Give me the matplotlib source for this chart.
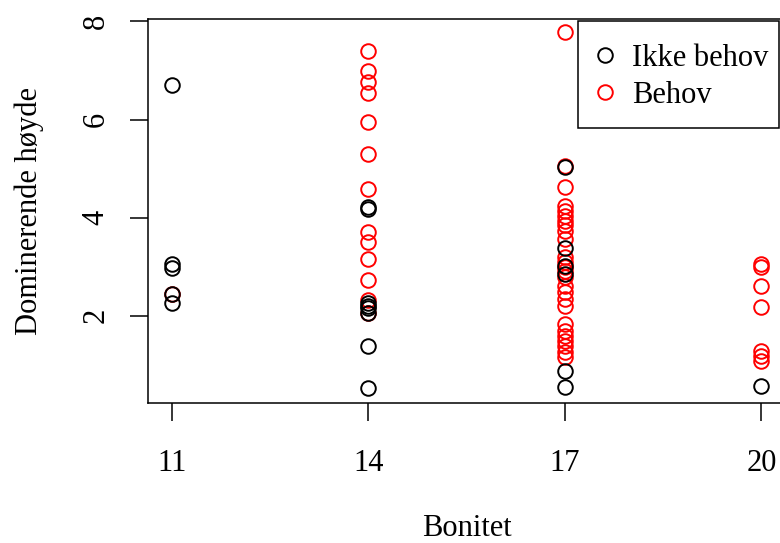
import matplotlib
matplotlib.use("Agg")
import matplotlib.pyplot as plt
from matplotlib.patches import Rectangle

# Ikke behov (black)
bonitet_ikke = [11, 11, 11, 11, 11,
                14, 14, 14, 14, 14, 14, 14, 14,
                17, 17, 17, 17, 17, 17,
                20]
hoyde_ikke = [6.7, 3.05, 2.98, 2.45, 2.25,
              4.22, 4.18, 2.25, 2.2, 2.15, 2.05, 1.38, 0.53,
              5.03, 3.39, 3.02, 2.85, 0.88, 0.54,
              0.57]

# Behov (red)
bonitet_behov = [11] + [14] * 13 + [17] * 26 + [20] * 7
hoyde_behov = [2.45,
               7.39, 6.99, 6.76, 6.54, 5.94, 5.29, 4.58, 3.70, 3.50, 3.16, 2.73, 2.32, 2.05,
               7.78, 5.06, 4.63, 4.24, 4.14, 4.04, 3.94, 3.84, 3.73, 3.57, 3.19, 3.10,
               3.00, 2.92, 2.78, 2.61, 2.48, 2.34, 2.20, 1.83, 1.69, 1.59, 1.49, 1.39,
               1.25, 1.15,
               3.05, 2.99, 2.61, 2.17, 1.29, 1.18, 1.08]

x_ticks = [11, 14, 17, 20]
y_ticks = [2, 4, 6, 8]

plt.rcParams['font.family'] = ['Liberation Serif', 'DejaVu Serif']
plt.rcParams['font.size'] = 22

W, H = 780, 543
fig = plt.figure(figsize=(W / 100, H / 100), dpi=100)
# plot region in pixels: x 148..785 (cut off at right), y 19..403
ax = fig.add_axes([148 / W, 1 - 403 / H, (785 - 148) / W, (403 - 19) / H])

ax.plot(bonitet_behov, hoyde_behov, 'o', mfc='none', mec='red', ms=10.5, mew=1.4,
        label='Behov', zorder=3)
ax.plot(bonitet_ikke, hoyde_ikke, 'o', mfc='none', mec='black', ms=10.5, mew=1.4,
        label='Ikke behov', zorder=4)

ax.set_xlim(10.64, 20.36)
ax.set_ylim(0.22, 8.05)
ax.set_xticks(x_ticks)
ax.set_yticks(y_ticks)
ax.set_yticklabels([str(v) for v in y_ticks], rotation=90, va='center')
ax.tick_params(direction='out', length=13, width=1.1, pad=20, colors='black')
ax.tick_params(axis='y', pad=14)

for s in ax.spines.values():
    s.set_linewidth(1.1)

ax.set_xlabel('Bonitet', labelpad=26)
ax.set_ylabel('Dominerende høyde', labelpad=27)

# legend box drawn separately so its size matches the R one
box = Rectangle((578 / W, 1 - 128 / H), 201 / W, 107 / H, transform=fig.transFigure,
                facecolor='white', edgecolor='black', linewidth=1.1, zorder=5)
fig.add_artist(box)

handles, labels = ax.get_legend_handles_labels()
leg = fig.legend(handles[::-1], labels[::-1], loc='upper left',
                 bbox_to_anchor=(593 / W, 1 - 43.5 / H), bbox_transform=fig.transFigure,
                 frameon=False, handlelength=0.8, handletextpad=0.48, borderpad=0,
                 labelspacing=0.27, borderaxespad=0, fontsize=22)
leg.set_zorder(6)

fig.savefig('out.png', dpi=100)
